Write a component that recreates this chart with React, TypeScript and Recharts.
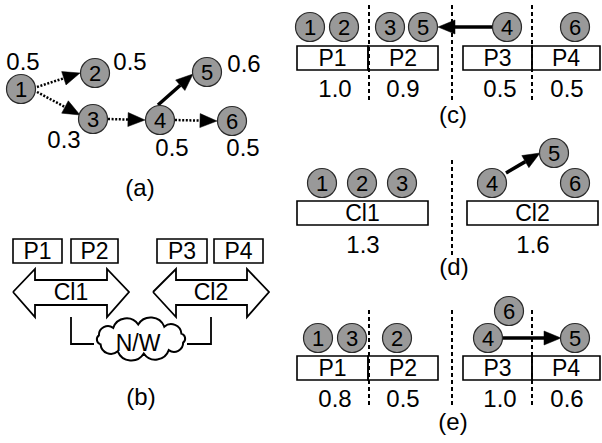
import React from 'react';
import { ScatterChart, Scatter, XAxis, YAxis, ReferenceArea, ReferenceLine } from 'recharts';

const FONT = '"Liberation Sans", Arial, Helvetica, sans-serif';

// ---------- panel (a): task graph ----------
const aNodes = [
  { x: 21, y: 89, id: '1' },
  { x: 95, y: 73, id: '2' },
  { x: 93, y: 119, id: '3' },
  { x: 160, y: 120, id: '4' },
  { x: 207, y: 72, id: '5' },
  { x: 232, y: 121, id: '6' },
];
const aEdges = [
  { x1: 37, y1: 87, x2: 80, y2: 73, solid: false },
  { x1: 37, y1: 92, x2: 80, y2: 115, solid: false },
  { x1: 108, y1: 119, x2: 145, y2: 120, solid: false },
  { x1: 158, y1: 105, x2: 193, y2: 74, solid: true },
  { x1: 175, y1: 120, x2: 217, y2: 121, solid: false },
];
const aWeights = [
  { x: 23, y: 61, text: '0.5' },
  { x: 130, y: 61, text: '0.5' },
  { x: 64, y: 139, text: '0.3' },
  { x: 172, y: 147, text: '0.5' },
  { x: 244, y: 63, text: '0.6' },
  { x: 243, y: 147, text: '0.5' },
];

// ---------- panel (b): platform ----------
const bProcs = [
  { label: 'P1', x1: 13, x2: 62, y1: 239, y2: 263 },
  { label: 'P2', x1: 71, x2: 118, y1: 239, y2: 263 },
  { label: 'P3', x1: 157, x2: 207, y1: 239, y2: 263 },
  { label: 'P4', x1: 214, x2: 263, y1: 239, y2: 263 },
];
const bClusters = [
  { label: 'Cl1', left: 13, headL: 35, headR: 107, right: 129, top: 269, shaftTop: 280, mid: 292, shaftBot: 305, bot: 317 },
  { label: 'Cl2', left: 153, headL: 176, headR: 247, right: 269, top: 269, shaftTop: 280, mid: 292, shaftBot: 305, bot: 317 },
];
const bLinks = [
  [{ x: 71, y: 317 }, { x: 71, y: 344 }, { x: 94, y: 344 }],
  [{ x: 187, y: 344 }, { x: 211, y: 344 }, { x: 211, y: 317 }],
];
const bCloud = [{ x: 141, y: 339, text: 'N/W' }];

// ---------- panel (c) ----------
const cNodes = [
  { x: 310, y: 27, id: '1' },
  { x: 344, y: 27, id: '2' },
  { x: 390, y: 27, id: '3' },
  { x: 423, y: 27, id: '5' },
  { x: 507, y: 27, id: '4' },
  { x: 575, y: 27, id: '6' },
];
const cBoxes = [
  { label: 'P1', x1: 297, x2: 368, y1: 46, y2: 70 },
  { label: 'P2', x1: 368, x2: 438, y1: 46, y2: 70 },
  { label: 'P3', x1: 463, x2: 532, y1: 46, y2: 70 },
  { label: 'P4', x1: 532, x2: 600, y1: 46, y2: 70 },
];
const cLoads = [
  { x: 335, y: 88, text: '1.0' },
  { x: 403, y: 88, text: '0.9' },
  { x: 500, y: 88, text: '0.5' },
  { x: 567, y: 88, text: '0.5' },
];
const cEdges = [{ x1: 493, y1: 27, x2: 438, y2: 27, solid: true }];
const cSeps = [
  { x: 369, y1: 5, y2: 100 },
  { x: 452, y1: 5, y2: 100 },
  { x: 532, y1: 5, y2: 100 },
];

// ---------- panel (d) ----------
const dNodes = [
  { x: 322, y: 183, id: '1' },
  { x: 362, y: 183, id: '2' },
  { x: 402, y: 183, id: '3' },
  { x: 492, y: 183, id: '4' },
  { x: 554, y: 153, id: '5' },
  { x: 575, y: 183, id: '6' },
];
const dBoxes = [
  { label: 'Cl1', x1: 297, x2: 428, y1: 201, y2: 225 },
  { label: 'Cl2', x1: 467, x2: 598, y1: 201, y2: 225 },
];
const dLoads = [
  { x: 363, y: 244, text: '1.3' },
  { x: 533, y: 244, text: '1.6' },
];
const dEdges = [{ x1: 506, y1: 173, x2: 540, y2: 153, solid: true }];
const dSeps = [{ x: 452, y1: 160, y2: 255 }];

// ---------- panel (e) ----------
const eNodes = [
  { x: 318, y: 338, id: '1' },
  { x: 352, y: 338, id: '3' },
  { x: 397, y: 338, id: '2' },
  { x: 488, y: 338, id: '4' },
  { x: 509, y: 311, id: '6' },
  { x: 575, y: 338, id: '5' },
];
const eBoxes = [
  { label: 'P1', x1: 297, x2: 368, y1: 356, y2: 380 },
  { label: 'P2', x1: 368, x2: 438, y1: 356, y2: 380 },
  { label: 'P3', x1: 463, x2: 532, y1: 356, y2: 380 },
  { label: 'P4', x1: 532, x2: 600, y1: 356, y2: 380 },
];
const eLoads = [
  { x: 335, y: 398, text: '0.8' },
  { x: 403, y: 398, text: '0.5' },
  { x: 500, y: 398, text: '1.0' },
  { x: 567, y: 398, text: '0.6' },
];
const eEdges = [{ x1: 502, y1: 338, x2: 561, y2: 338, solid: true }];
const eSeps = [
  { x: 369, y1: 310, y2: 406 },
  { x: 452, y1: 310, y2: 406 },
  { x: 532, y1: 310, y2: 406 },
];

const captions = [
  { x: 140, y: 189, text: '(a)' },
  { x: 141, y: 398, text: '(b)' },
  { x: 453, y: 116, text: '(c)' },
  { x: 454, y: 268, text: '(d)' },
  { x: 453, y: 423, text: '(e)' },
];

// ---------- shapes ----------
const HEAD_LEN = 17;
const HEAD_HALF = 7;
const NODE_R = 14.5;

const Empty = () => <g />;

const NodeShape = (p: any) => (
  <g>
    <circle cx={p.cx} cy={p.cy} r={NODE_R} fill="#999999" stroke="#2a2a2a" strokeWidth={1.2} />
    <text x={p.cx} y={p.cy} dy="0.36em" textAnchor="middle" fontSize={22} fontFamily={FONT} fill="#000">
      {p.payload.id}
    </text>
  </g>
);

const makeText = (size: number, dy: string) => (p: any) => (
  <text x={p.cx} y={p.cy} dy={dy} textAnchor="middle" fontSize={size} fontFamily={FONT} fill="#000">
    {p.payload.text}
  </text>
);
const ValueText = makeText(24, '0.36em');
const CaptionText = makeText(24, '0.3em');
const BoxText = makeText(23, '0.36em');

const ArrowHead = (p: any) => {
  const d = p.payload;
  if (!d.head) return <g />;
  const tx = p.cx + d.ux * HEAD_LEN;
  const ty = p.cy + d.uy * HEAD_LEN;
  const nx = -d.uy * HEAD_HALF;
  const ny = d.ux * HEAD_HALF;
  const pts = `${tx},${ty} ${p.cx + nx},${p.cy + ny} ${p.cx - nx},${p.cy - ny}`;
  return <polygon points={pts} fill="#000" stroke="#000" strokeWidth={0.5} strokeLinejoin="miter" />;
};

const CloudShape = (p: any) => {
  const cx = p.cx;
  const cy = p.cy;
  const rx = 43.5;
  const ry = 14.5;
  const n = 10;
  const pts: [number, number][] = [];
  for (let i = 0; i < n; i++) {
    const t = (i / n) * Math.PI * 2 + 0.25;
    pts.push([cx + rx * Math.cos(t), cy + ry * Math.sin(t)]);
  }
  let d = `M ${pts[0][0]} ${pts[0][1]}`;
  for (let i = 0; i < n; i++) {
    const a = pts[i];
    const b = pts[(i + 1) % n];
    const c = Math.hypot(b[0] - a[0], b[1] - a[1]);
    const r = c * 0.56;
    d += ` A ${r} ${r} 0 0 1 ${b[0]} ${b[1]}`;
  }
  d += ' Z';
  return (
    <g>
      <path d={d} fill="#fff" stroke="#000" strokeWidth={2} />
      <text x={cx - 3} y={cy + 4} dy="0.36em" textAnchor="middle" fontSize={23} fontFamily={FONT} fill="#000">
        {p.payload.text}
      </text>
    </g>
  );
};

// ---------- builders ----------
const edgeSeries = (edges: any[], prefix: string) =>
  edges.map((e, i) => {
    const dx = e.x2 - e.x1;
    const dy = e.y2 - e.y1;
    const len = Math.hypot(dx, dy);
    const ux = dx / len;
    const uy = dy / len;
    const data = [
      { x: e.x1, y: e.y1, head: false },
      { x: e.x2 - ux * HEAD_LEN, y: e.y2 - uy * HEAD_LEN, head: true, ux, uy },
    ];
    return (
      <Scatter
        key={`${prefix}-edge-${i}`}
        data={data}
        isAnimationActive={false}
        lineType="joint"
        line={
          e.solid
            ? { stroke: '#000', strokeWidth: 3.5 }
            : { stroke: '#000', strokeWidth: 2.5, strokeDasharray: '2 1.6' }
        }
        shape={ArrowHead}
      />
    );
  });

const boxAreas = (boxes: any[], prefix: string) =>
  boxes.map((b, i) => (
    <ReferenceArea
      key={`${prefix}-box-${i}`}
      x1={b.x1}
      x2={b.x2}
      y1={b.y1}
      y2={b.y2}
      fill="none"
      fillOpacity={0}
      stroke="#000"
      strokeWidth={1.6}
      ifOverflow="visible"
    />
  ));

const boxLabelData = (boxes: any[]) => boxes.map((b) => ({ x: (b.x1 + b.x2) / 2, y: (b.y1 + b.y2) / 2, text: b.label }));

const sepLines = (seps: any[], prefix: string) =>
  seps.map((s, i) => (
    <ReferenceLine
      key={`${prefix}-sep-${i}`}
      segment={[{ x: s.x, y: s.y1 }, { x: s.x, y: s.y2 }]}
      stroke="#000"
      strokeWidth={2}
      strokeDasharray="4 3"
      ifOverflow="visible"
    />
  ));

const clusterPolys = bClusters.map((c) => [
  { x: c.left, y: c.mid },
  { x: c.headL, y: c.top },
  { x: c.headL, y: c.shaftTop },
  { x: c.headR, y: c.shaftTop },
  { x: c.headR, y: c.top },
  { x: c.right, y: c.mid },
  { x: c.headR, y: c.bot },
  { x: c.headR, y: c.shaftBot },
  { x: c.headL, y: c.shaftBot },
  { x: c.headL, y: c.bot },
  { x: c.left, y: c.mid },
]);
const clusterLabels = bClusters.map((c) => ({ x: (c.left + c.right) / 2, y: c.mid, text: c.label }));

export default function App() {
  const allBoxes = [...cBoxes, ...dBoxes, ...eBoxes, ...bProcs];
  return (
    <div style={{ position: 'absolute', left: 0, top: 0, width: 602, height: 443, background: '#fff' }}>
      <ScatterChart width={602} height={443} margin={{ top: 0, right: 0, bottom: 0, left: 0 }}>
        <XAxis type="number" dataKey="x" domain={[0, 602]} hide allowDataOverflow />
        <YAxis type="number" dataKey="y" domain={[0, 443]} reversed hide allowDataOverflow />

        {boxAreas(bProcs, 'b')}
        {boxAreas(cBoxes, 'c')}
        {boxAreas(dBoxes, 'd')}
        {boxAreas(eBoxes, 'e')}
        {sepLines(cSeps, 'c')}
        {sepLines(dSeps, 'd')}
        {sepLines(eSeps, 'e')}

        {clusterPolys.map((poly, i) => (
          <Scatter
            key={`cl-${i}`}
            data={poly}
            isAnimationActive={false}
            lineType="joint"
            line={{ stroke: '#000', strokeWidth: 1.8, strokeLinejoin: 'miter' }}
            shape={Empty}
          />
        ))}
        {bLinks.map((poly, i) => (
          <Scatter
            key={`lk-${i}`}
            data={poly}
            isAnimationActive={false}
            lineType="joint"
            line={{ stroke: '#000', strokeWidth: 1.8 }}
            shape={Empty}
          />
        ))}
        <Scatter data={bCloud} isAnimationActive={false} shape={CloudShape} />
        <Scatter data={clusterLabels} isAnimationActive={false} shape={BoxText} />

        {edgeSeries(aEdges, 'a')}
        {edgeSeries(cEdges, 'c')}
        {edgeSeries(dEdges, 'd')}
        {edgeSeries(eEdges, 'e')}

        <Scatter data={aNodes} isAnimationActive={false} shape={NodeShape} />
        <Scatter data={cNodes} isAnimationActive={false} shape={NodeShape} />
        <Scatter data={dNodes} isAnimationActive={false} shape={NodeShape} />
        <Scatter data={eNodes} isAnimationActive={false} shape={NodeShape} />

        <Scatter data={boxLabelData(allBoxes)} isAnimationActive={false} shape={BoxText} />
        <Scatter data={aWeights} isAnimationActive={false} shape={ValueText} />
        <Scatter data={[...cLoads, ...dLoads, ...eLoads]} isAnimationActive={false} shape={ValueText} />
        <Scatter data={captions} isAnimationActive={false} shape={CaptionText} />
      </ScatterChart>
    </div>
  );
}
